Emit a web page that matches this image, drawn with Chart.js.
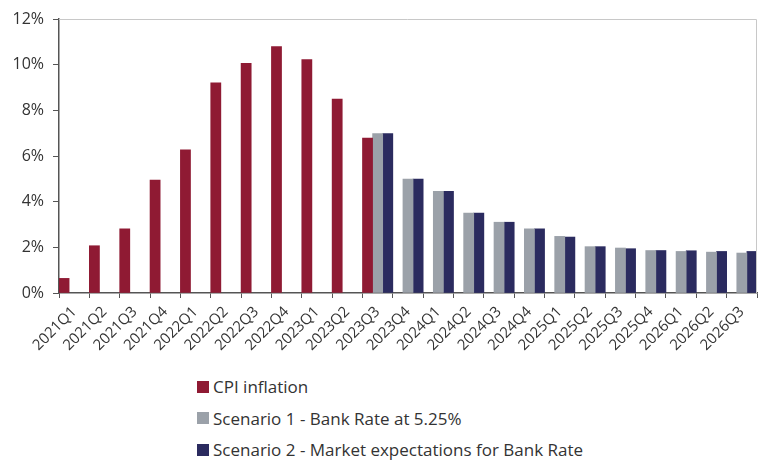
<!DOCTYPE html>
<html>
<head>
<meta charset="utf-8">
<script src="https://cdn.jsdelivr.net/npm/chart.js@4"></script>
<style>
    body { margin: 0; background: #fff; font-family: 'Open Sans', sans-serif; }
    #wrap { position: relative; width: 776px; height: 355px; }
    #legend { position: absolute; left: 197px; top: 371px; }
    .leg-item { display: flex; align-items: center; height: 31.5px; font-size: 17px; color: #333; }
    .leg-box { width: 12px; height: 12px; margin-right: 4px; }
</style>
</head>
<body>
<div id="wrap"><canvas id="cpiChart"></canvas></div>
<div id="legend"></div>
<script>
const quarters = ['2021Q1', '2021Q2', '2021Q3', '2021Q4', '2022Q1', '2022Q2', '2022Q3', '2022Q4',
    '2023Q1', '2023Q2', '2023Q3', '2023Q4', '2024Q1', '2024Q2', '2024Q3', '2024Q4',
    '2025Q1', '2025Q2', '2025Q3', '2025Q4', '2026Q1', '2026Q2', '2026Q3'];

const cpiInflation = [0.64, 2.07, 2.81, 4.94, 6.27, 9.2, 10.06, 10.79, 10.22, 8.49, 6.79,
    null, null, null, null, null, null, null, null, null, null, null, null];

const scenario1 = [null, null, null, null, null, null, null, null, null, null, 6.98,
    4.99, 4.45, 3.5, 3.1, 2.81, 2.48, 2.03, 1.97, 1.86, 1.82, 1.79, 1.75];

const scenario2 = [null, null, null, null, null, null, null, null, null, null, 6.98,
    4.99, 4.45, 3.5, 3.1, 2.81, 2.45, 2.03, 1.94, 1.86, 1.85, 1.82, 1.82];

const yTicks = [0, 2, 4, 6, 8, 10, 12];

const seriesNames = ['CPI inflation', 'Scenario 1 - Bank Rate at 5.25%', 'Scenario 2 - Market expectations for Bank Rate'];
const seriesColors = ['#8f1a33', '#9ba1a9', '#2b2b5f'];

// top + right frame lines
const frameLines = {
    id: 'frameLines',
    afterDraw(chart) {
        const { ctx, chartArea: a } = chart;
        ctx.save();
        ctx.strokeStyle = '#c8c8c8';
        ctx.lineWidth = 1;
        ctx.beginPath();
        ctx.moveTo(a.left, a.top + 0.5);
        ctx.lineTo(a.right - 0.5, a.top + 0.5);
        ctx.lineTo(a.right - 0.5, a.bottom);
        ctx.stroke();
        ctx.restore();
    }
};

const ctx = document.getElementById('cpiChart').getContext('2d');
const chart = new Chart(ctx, {
    type: 'bar',
    data: {
        labels: quarters,
        datasets: [
            { label: seriesNames[0], data: cpiInflation, backgroundColor: seriesColors[0] },
            { label: seriesNames[1], data: scenario1, backgroundColor: seriesColors[1] },
            { label: seriesNames[2], data: scenario2, backgroundColor: seriesColors[2] }
        ]
    },
    options: {
        responsive: true,
        maintainAspectRatio: false,
        animation: false,
        layout: { padding: { top: 19, right: 19, left: 0, bottom: 0 } },
        datasets: { bar: { categoryPercentage: 1.0, barPercentage: 1.0 } },
        scales: {
            x: {
                grid: { display: true, drawOnChartArea: false, offset: true, tickLength: 5, color: '#555' },
                border: { color: '#555', width: 1.5 },
                ticks: {
                    color: '#333', font: { family: 'Open Sans', size: 15 },
                    maxRotation: 45, minRotation: 45, autoSkip: false, padding: 5
                },
                afterFit(scale) { scale.height = 62; }
            },
            y: {
                min: 0, max: 12,
                afterBuildTicks(scale) { scale.ticks = yTicks.map(v => ({ value: v })); },
                grid: { display: true, drawOnChartArea: false, tickLength: 6, color: '#555' },
                border: { color: '#555', width: 1.5 },
                ticks: {
                    color: '#333', font: { family: 'Open Sans', size: 16 }, padding: 9,
                    callback: v => v + '%'
                },
                afterFit(scale) { scale.width = 59; }
            }
        },
        plugins: {
            legend: { display: false },
            tooltip: { enabled: false }
        }
    },
    plugins: [frameLines]
});

// vertical legend below the chart
document.getElementById('legend').innerHTML = chart.data.datasets.map(ds => `
    <div class="leg-item"><span class="leg-box" style="background:${ds.backgroundColor}"></span>${ds.label}</div>
`).join('');
</script>
</body>
</html>
